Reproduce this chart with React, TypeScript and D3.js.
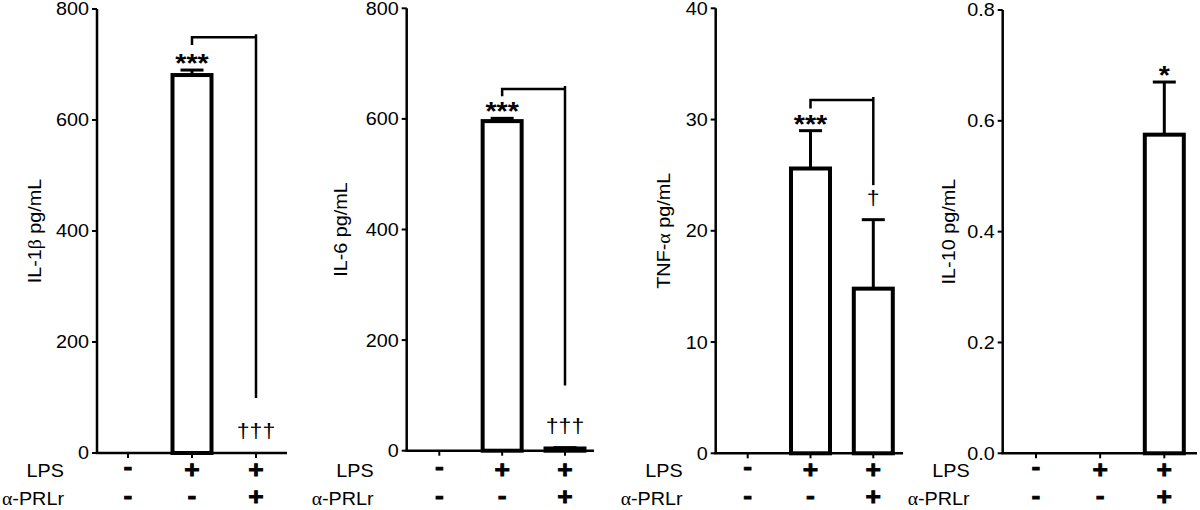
import React from "react";
import * as d3 from "d3";

// ---------- data ----------
const groups = ["Control", "LPS", "LPS + α-PRLr"];
const lpsRow = ["-", "+", "+"];
const prlrRow = ["-", "-", "+"];

const il1bMean = [0, 681, 0];
const il1bSem = [0, 9, 0];
const il6Mean = [0, 596, 4];
const il6Sem = [0, 5, 1.5];
const tnfMean = [0, 25.6, 14.8];
const tnfSem = [0, 3.4, 6.2];
const il10Mean = [0, 0, 0.575];
const il10Sem = [0, 0, 0.095];

const il1bTicks = [0, 200, 400, 600, 800];
const il6Ticks = [0, 200, 400, 600, 800];
const tnfTicks = [0, 10, 20, 30, 40];
const il10Ticks = [0, 0.2, 0.4, 0.6, 0.8];

const il1bStars = ["", "***", ""];
const il6Stars = ["", "***", ""];
const tnfStars = ["", "***", ""];
const il10Stars = ["", "", "*"];

const il1bDaggers = ["", "", "†††"];
const il6Daggers = ["", "", "†††"];
const tnfDaggers = ["", "", "†"];
const il10Daggers = ["", "", ""];

// ---------- layout ----------
const FONT = "'Liberation Sans', Arial, Helvetica, sans-serif";
const SERIF = "'Liberation Serif', 'DejaVu Serif', serif";
const SX = 1.1; // horizontal stretch of the original figure's lettering

const panels = [
  {
    name: "IL-1", greek: "β", unit: " pg/mL",
    mean: il1bMean, sem: il1bSem, ticks: il1bTicks, fmt: d3.format("d"),
    stars: il1bStars, daggers: il1bDaggers,
    axisX: 97, axisEnd: 287, top: 9, bottom: 453, first: 31, last: 159, labelX: 41,
    bracket: { y: 749, left: 735, right: 99 },
  },
  {
    name: "IL-6", greek: "", unit: " pg/mL",
    mean: il6Mean, sem: il6Sem, ticks: il6Ticks, fmt: d3.format("d"),
    stars: il6Stars, daggers: il6Daggers,
    axisX: 406.7, axisEnd: 594, top: 8.3, bottom: 450.7, first: 32.6, last: 158.3, labelX: 346.7,
    bracket: { y: 654, left: 641, right: 118 },
  },
  {
    name: "TNF-", greek: "α", unit: " pg/mL",
    mean: tnfMean, sem: tnfSem, ticks: tnfTicks, fmt: d3.format("d"),
    stars: tnfStars, daggers: tnfDaggers,
    axisX: 715.7, axisEnd: 903, top: 8.3, bottom: 453.3, first: 32, last: 157.6, labelX: 670,
    bracket: { y: 31.76, left: 31.0, right: 24.1 },
  },
  {
    name: "IL-10", greek: "", unit: " pg/mL",
    mean: il10Mean, sem: il10Sem, ticks: il10Ticks, fmt: d3.format(".1f"),
    stars: il10Stars, daggers: il10Daggers,
    axisX: 1002.7, axisEnd: 1197, top: 10, bottom: 453.3, first: 33.3, last: 161.6, labelX: 955,
    bracket: null,
  },
];

const BAR_W = 39;
const CAP_W = 23;

function T({ x, y, anchor = "start", size = 18, weight = "normal", rotate = 0, dy = "0", stroke, children }: any) {
  return (
    <g transform={`translate(${x},${y}) rotate(${rotate}) scale(${SX},1)`}>
      <text
        x={0}
        y={0}
        dy={dy}
        textAnchor={anchor}
        fontFamily={FONT}
        fontSize={size}
        fontWeight={weight}
        stroke={stroke}
        strokeWidth={stroke ? 0.8 : undefined}
        fill="#000"
      >
        {children}
      </text>
    </g>
  );
}

function Panel({ p }: { p: any }) {
  const ticks: number[] = p.ticks;
  const y = d3.scaleLinear().domain([ticks[0], ticks[ticks.length - 1]]).range([p.bottom, p.top]);
  const x = d3.scalePoint<string>().domain(groups).range([p.axisX + p.first, p.axisX + p.last]);
  const midY = (p.top + p.bottom) / 2;

  return (
    <g>
      {/* bars */}
      {groups.map((g, i) => {
        const m = p.mean[i];
        if (m <= 0) return null;
        const cx = x(g) as number;
        const top = y(m);
        const errTop = y(m + p.sem[i]);
        return (
          <g key={g}>
            <line x1={cx} x2={cx} y1={top} y2={errTop} stroke="#000" strokeWidth={3} />
            <line x1={cx - CAP_W / 2} x2={cx + CAP_W / 2} y1={errTop} y2={errTop} stroke="#000" strokeWidth={3} />
            <rect x={cx - BAR_W / 2} y={top} width={BAR_W} height={p.bottom - top} fill="#fff" stroke="#000" strokeWidth={4} />
          </g>
        );
      })}

      {/* axes */}
      <line x1={p.axisX} x2={p.axisX} y1={p.top} y2={p.bottom} stroke="#000" strokeWidth={2.5} />
      <line x1={p.axisX - 1.25} x2={p.axisEnd} y1={p.bottom} y2={p.bottom} stroke="#000" strokeWidth={2.5} />
      {ticks.map((t) => (
        <g key={t}>
          <line x1={p.axisX - 5} x2={p.axisX} y1={y(t)} y2={y(t)} stroke="#000" strokeWidth={2} />
          <T x={p.axisX - 8} y={y(t)} dy="0.36em" anchor="end" size={18}>
            {p.fmt(t)}
          </T>
        </g>
      ))}
      {groups.map((g) => (
        <line key={g} x1={x(g)} x2={x(g)} y1={p.bottom} y2={p.bottom + 5} stroke="#000" strokeWidth={2} />
      ))}

      {/* y label */}
      <T x={p.labelX} y={midY} rotate={-90} anchor="middle" size={18}>
        {p.name}
        {p.greek ? <tspan fontFamily={SERIF}>{p.greek}</tspan> : null}
        {p.unit}
      </T>

      {/* row labels */}
      <T x={p.axisX - 33} y={477} anchor="end" size={18}>LPS</T>
      <T x={p.axisX - 33} y={505} anchor="end" size={18}>
        <tspan fontFamily={SERIF}>α</tspan>-PRLr
      </T>
      {groups.map((g, i) => (
        <g key={g}>
          <T x={x(g)} y={lpsRow[i] === "-" ? 475 : 478} anchor="middle" size={24} weight="bold" stroke="#000">
            {lpsRow[i]}
          </T>
          <T x={x(g)} y={prlrRow[i] === "-" ? 504 : 505} anchor="middle" size={24} weight="bold" stroke="#000">
            {prlrRow[i]}
          </T>
        </g>
      ))}

      {/* significance */}
      {groups.map((g, i) => {
        const cx = x(g) as number;
        const capY = y(p.mean[i] + p.sem[i]);
        return (
          <g key={g}>
            {p.stars[i] ? (
              <T x={cx} y={capY - 13 + 15} anchor="middle" size={26} weight="bold">
                {p.stars[i]}
              </T>
            ) : null}
            {p.daggers[i] ? (
              <T x={cx} y={capY - 21 + 6} anchor="middle" size={21}>
                {p.daggers[i]}
              </T>
            ) : null}
          </g>
        );
      })}
      {p.bracket ? (
        <g stroke="#000" strokeWidth={2.5} fill="none">
          <path
            d={`M${x(groups[1])},${y(p.bracket.left)}V${y(p.bracket.y)}H${x(groups[2])}`}
            strokeLinejoin="miter"
          />
          <line x1={x(groups[2])} x2={x(groups[2])} y1={y(p.bracket.y) - 3} y2={y(p.bracket.right)} />
        </g>
      ) : null}
    </g>
  );
}

export default function App() {
  return (
    <svg
      width={1200}
      height={510}
      viewBox="0 0 1200 510"
      style={{ position: "absolute", left: 0, top: 0, background: "#fff", display: "block" }}
    >
      <rect x={0} y={0} width={1200} height={510} fill="#fff" />
      {panels.map((p, i) => (
        <Panel key={i} p={p} />
      ))}
    </svg>
  );
}
